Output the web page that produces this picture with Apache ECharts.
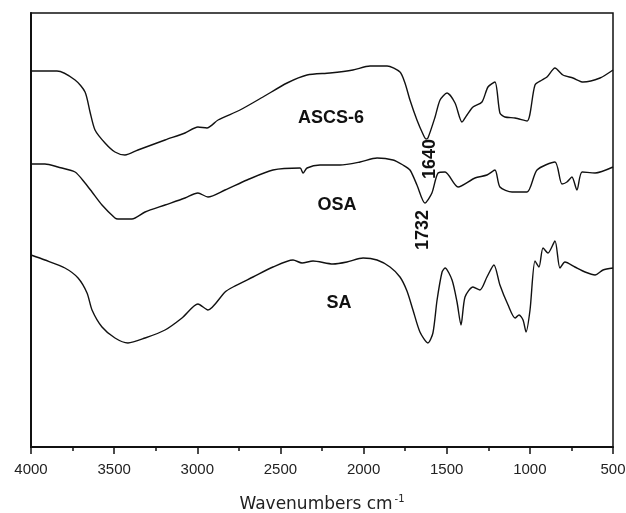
<!DOCTYPE html>
<html>
<head>
<meta charset="utf-8">
<script src="https://cdn.jsdelivr.net/npm/echarts@6/dist/echarts.min.js"></script>
<style>
  html, body { margin: 0; padding: 0; background: #fff; }
  #main { width: 626px; height: 513px; }
</style>
</head>
<body>
<div id="main"></div>
<script>
// wavenumbers (cm-1) and transmittance (a.u.)
var ascsWave = [4000, 3844, 3735, 3675, 3645, 3615, 3555, 3495, 3435, 3357, 3194, 3074, 2996, 2942, 2875,
    2743, 2605, 2460, 2340, 2202, 2064, 1961, 1859, 1781, 1751, 1721, 1679, 1643, 1625, 1613, 1570, 1540,
    1498, 1450, 1408, 1378, 1342, 1288, 1252, 1210, 1180, 1150, 1089, 1017, 969, 927, 897, 849, 801, 741,
    680, 578, 500];
var ascsT = [376, 376, 367, 355, 335, 317, 304, 295, 292, 297, 307, 314, 320, 319, 327,
    337, 350, 364, 372, 374, 377, 381, 381, 375, 364, 347, 327, 313, 308, 309, 330, 347,
    354, 344, 325, 332, 340, 345, 360, 365, 334, 330, 329, 326, 362, 367, 370, 379, 372, 369,
    365, 369, 377];

var osaWave = [4000, 3916, 3838, 3735, 3675, 3633, 3573, 3495, 3477, 3393, 3314, 3194, 3074, 2996, 2936,
    2833, 2701, 2545, 2382, 2364, 2340, 2262, 2142, 2021, 1919, 1823, 1763, 1721, 1679, 1631, 1589, 1552,
    1510, 1432, 1330, 1258, 1210, 1180, 1107, 1017, 957, 849, 807, 777, 747, 717, 686, 608, 500];
var osaT = [283, 283, 280, 275, 264, 255, 242, 229, 228, 228, 235, 242, 249, 254, 250,
    257, 267, 277, 279, 274, 279, 282, 282, 285, 289, 287, 282, 277, 262, 244, 254, 274,
    275, 260, 269, 272, 277, 260, 255, 255, 277, 285, 263, 265, 270, 257, 275, 274, 280];

var saWave = [4000, 3916, 3796, 3717, 3663, 3633, 3573, 3495, 3417, 3314, 3194, 3092, 2996, 2936, 2833,
    2785, 2665, 2545, 2424, 2370, 2304, 2184, 2100, 2003, 1919, 1841, 1781, 1739, 1703, 1661, 1613, 1583,
    1558, 1528, 1510, 1468, 1438, 1414, 1390, 1342, 1300, 1258, 1216, 1180, 1131, 1089, 1065, 1041, 1023,
    999, 969, 945, 921, 891, 849, 819, 789, 729, 668, 608, 560, 500];
var saT = [192, 187, 179, 169, 154, 137, 120, 109, 104, 109, 117, 129, 143, 137, 155,
    160, 170, 180, 187, 184, 186, 183, 185, 189, 187, 180, 170, 156, 137, 115, 104, 114,
    147, 175, 179, 167, 145, 122, 150, 160, 157, 170, 182, 162, 142, 129, 132, 127, 115,
    137, 186, 180, 199, 194, 206, 179, 185, 180, 175, 172, 177, 179];

function zip(xs, ys) {
    var out = [];
    for (var i = 0; i < xs.length; i++) {
        out.push([xs[i], ys[i]]);
    }
    return out;
}

function spectrum(name, xs, ys) {
    return {
        name: name,
        type: 'line',
        showSymbol: false,
        smooth: 0.25,
        lineStyle: { color: '#111', width: 1.4 },
        data: zip(xs, ys)
    };
}

var boldFont = 'bold 18px "Liberation Sans", Arial, sans-serif';

function tag(text, x, y, rot) {
    return {
        type: 'text',
        x: x,
        y: y,
        rotation: rot || 0,
        style: {
            text: text,
            font: boldFont,
            fill: '#111',
            align: 'center',
            verticalAlign: 'middle'
        }
    };
}

var chart = echarts.init(document.getElementById('main'));

var option = {
    animation: false,
    backgroundColor: '#fff',
    grid: {
        left: 31, right: 13, top: 13, bottom: 66,
        outerBoundsMode: 'none',
        containLabel: false,
        show: true,
        borderColor: '#111',
        borderWidth: 1.5
    },
    xAxis: {
        type: 'value',
        inverse: true,
        min: 500,
        max: 4000,
        interval: 500,
        name: '{a|Wavenumbers cm}{s|-1}',
        nameLocation: 'middle',
        nameGap: 47,
        nameTextStyle: {
            rich: {
                a: { fontSize: 17, fontFamily: '"DejaVu Sans", sans-serif', color: '#222', lineHeight: 22 },
                s: { fontSize: 10, fontFamily: '"DejaVu Sans", sans-serif', color: '#222', verticalAlign: 'top', lineHeight: 22, padding: [0, 0, 0, 2] }
            }
        },
        axisLine: { show: true, lineStyle: { color: '#111', width: 2 } },
        axisTick: { show: true, inside: false, length: 7, lineStyle: { color: '#111', width: 1.5 } },
        minorTick: { show: true, splitNumber: 2, length: 4, lineStyle: { color: '#111', width: 1.5 } },
        axisLabel: {
            margin: 15,
            fontSize: 15,
            fontFamily: '"Liberation Sans", Arial, sans-serif',
            color: '#222',
            showMinLabel: true,
            showMaxLabel: true,
            formatter: function (v) {
                return String(v);
            }
        },
        splitLine: { show: false }
    },
    yAxis: {
        type: 'value',
        min: 0,
        max: 434,
        axisLine: { show: true, lineStyle: { color: '#111', width: 2 } },
        axisTick: { show: false },
        axisLabel: { show: false },
        splitLine: { show: false }
    },
    series: [
        spectrum('ASCS-6', ascsWave, ascsT),
        spectrum('OSA', osaWave, osaT),
        spectrum('SA', saWave, saT)
    ],
    graphic: [
        tag('ASCS-6', 331, 118),
        tag('OSA', 337, 205),
        tag('SA', 339, 303),
        tag('1640', 430, 159, Math.PI / 2),
        tag('1732', 423, 230, Math.PI / 2)
    ]
};

chart.setOption(option);
</script>
</body>
</html>
